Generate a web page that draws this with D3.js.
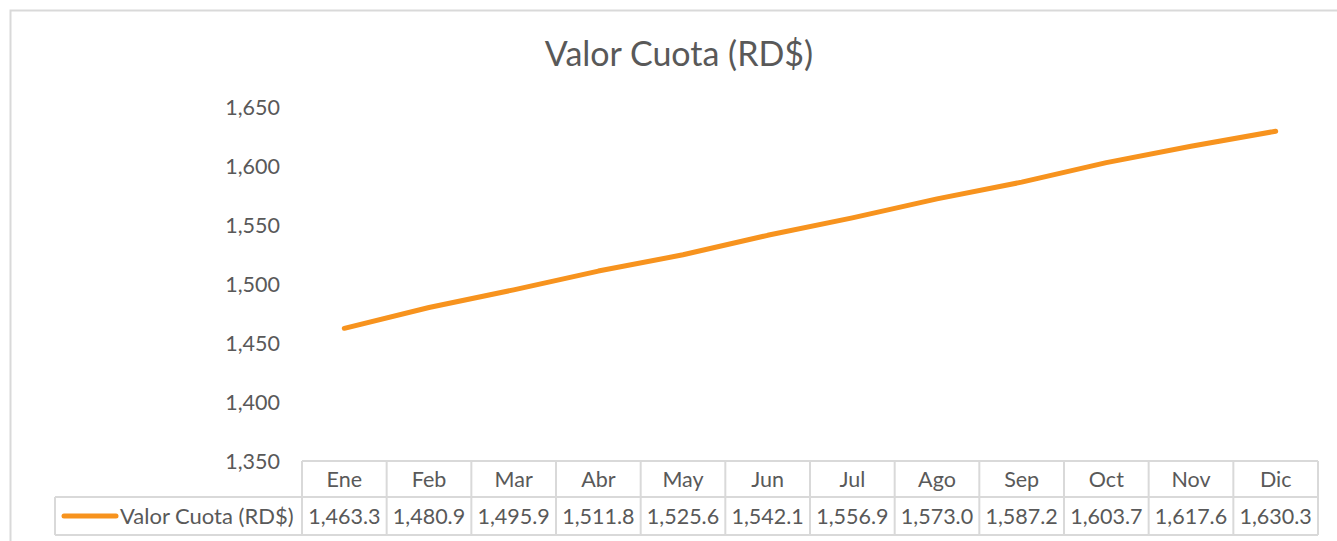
<!DOCTYPE html>
<html>
<head>
<meta charset="utf-8">
<script src="https://cdn.jsdelivr.net/npm/d3@7"></script>
<style>
  body { margin: 0; background: #fff; }
  svg { display: block; font-family: Lato, "Open Sans", sans-serif; }
</style>
</head>
<body>
<div class="container"></div>
<script>
const months = ['Ene', 'Feb', 'Mar', 'Abr', 'May', 'Jun', 'Jul', 'Ago', 'Sep', 'Oct', 'Nov', 'Dic'];
const valorCuota = [1463.3, 1480.9, 1495.9, 1511.8, 1525.6, 1542.1, 1556.9, 1573.0, 1587.2, 1603.7, 1617.6, 1630.3];
const yTicks = [1350, 1400, 1450, 1500, 1550, 1600, 1650];
const seriesName = 'Valor Cuota (RD$)';

const w = 1337;
const h = 541;
const lineColor = '#F7931E';
const gridColor = '#D9D9D9';
const textColor = '#595959';

const plot = { left: 302, right: 1318, top: 108, bottom: 462 };
const table = { left: 55, headTop: 461, rowTop: 497, bottom: 535 };

const svg = d3.select('.container')
    .append('svg')
    .attr('width', w)
    .attr('height', h);

// chart frame (runs past the window on right and bottom)
svg.append('rect')
    .attr('x', 10.5)
    .attr('y', 10.5)
    .attr('width', 1360)
    .attr('height', 560)
    .attr('fill', '#fff')
    .attr('stroke', gridColor)
    .attr('stroke-width', 2);

svg.append('text')
    .attr('x', 679)
    .attr('y', 66)
    .attr('text-anchor', 'middle')
    .attr('fill', textColor)
    .style('font-size', '34px')
    .text(seriesName);

const x = d3.scaleBand()
    .domain(months)
    .range([plot.left, plot.right]);

const y = d3.scaleLinear()
    .domain([1350, 1650])
    .range([plot.bottom, plot.top]);

// y axis labels
const yAxis = svg.append('g')
    .attr('transform', `translate(${plot.left - 22},0)`)
    .call(d3.axisLeft(y).tickValues(yTicks).tickFormat(d3.format(',')).tickSize(0).tickPadding(0));
yAxis.select('.domain').remove();
yAxis.selectAll('text')
    .attr('fill', textColor)
    .style('font-size', '21.5px')
    .style('font-family', 'Lato, "Open Sans", sans-serif');

// line
const line = d3.line()
    .x((d, i) => x(months[i]) + x.bandwidth() / 2)
    .y(d => y(d));

svg.append('path')
    .datum(valorCuota)
    .attr('fill', 'none')
    .attr('stroke', lineColor)
    .attr('stroke-width', 5)
    .attr('stroke-linecap', 'round')
    .attr('stroke-linejoin', 'round')
    .attr('d', line);

// data table
const grid = svg.append('g')
    .attr('stroke', gridColor)
    .attr('stroke-width', 2)
    .attr('fill', 'none');

grid.append('line')
    .attr('x1', plot.left).attr('x2', plot.right)
    .attr('y1', table.headTop).attr('y2', table.headTop);
grid.append('line')
    .attr('x1', table.left).attr('x2', plot.right)
    .attr('y1', table.rowTop).attr('y2', table.rowTop);
grid.append('line')
    .attr('x1', table.left).attr('x2', plot.right)
    .attr('y1', table.bottom).attr('y2', table.bottom);
grid.append('line')
    .attr('x1', table.left).attr('x2', table.left)
    .attr('y1', table.rowTop).attr('y2', table.bottom);

grid.selectAll('.col')
    .data(months.concat(['end']))
    .join('line')
    .attr('class', 'col')
    .attr('x1', (d, i) => plot.left + i * x.step())
    .attr('x2', (d, i) => plot.left + i * x.step())
    .attr('y1', table.headTop)
    .attr('y2', table.bottom);

svg.append('g')
    .selectAll('text')
    .data(months)
    .join('text')
    .attr('x', d => x(d) + x.bandwidth() / 2)
    .attr('y', (table.headTop + table.rowTop) / 2 + 8)
    .attr('text-anchor', 'middle')
    .attr('fill', textColor)
    .style('font-size', '21.5px')
    .text(d => d);

svg.append('g')
    .selectAll('text')
    .data(valorCuota)
    .join('text')
    .attr('x', (d, i) => x(months[i]) + x.bandwidth() / 2)
    .attr('y', (table.rowTop + table.bottom) / 2 + 8)
    .attr('text-anchor', 'middle')
    .attr('fill', textColor)
    .style('font-size', '21.5px')
    .text(d => d3.format(',.1f')(d));

// legend key inside the table
svg.append('line')
    .attr('x1', 64).attr('x2', 116)
    .attr('y1', 516).attr('y2', 516)
    .attr('stroke', lineColor)
    .attr('stroke-width', 5)
    .attr('stroke-linecap', 'round');

svg.append('text')
    .attr('x', 120)
    .attr('y', 524)
    .attr('fill', textColor)
    .style('font-size', '22px')
    .text(seriesName);
</script>
</body>
</html>
